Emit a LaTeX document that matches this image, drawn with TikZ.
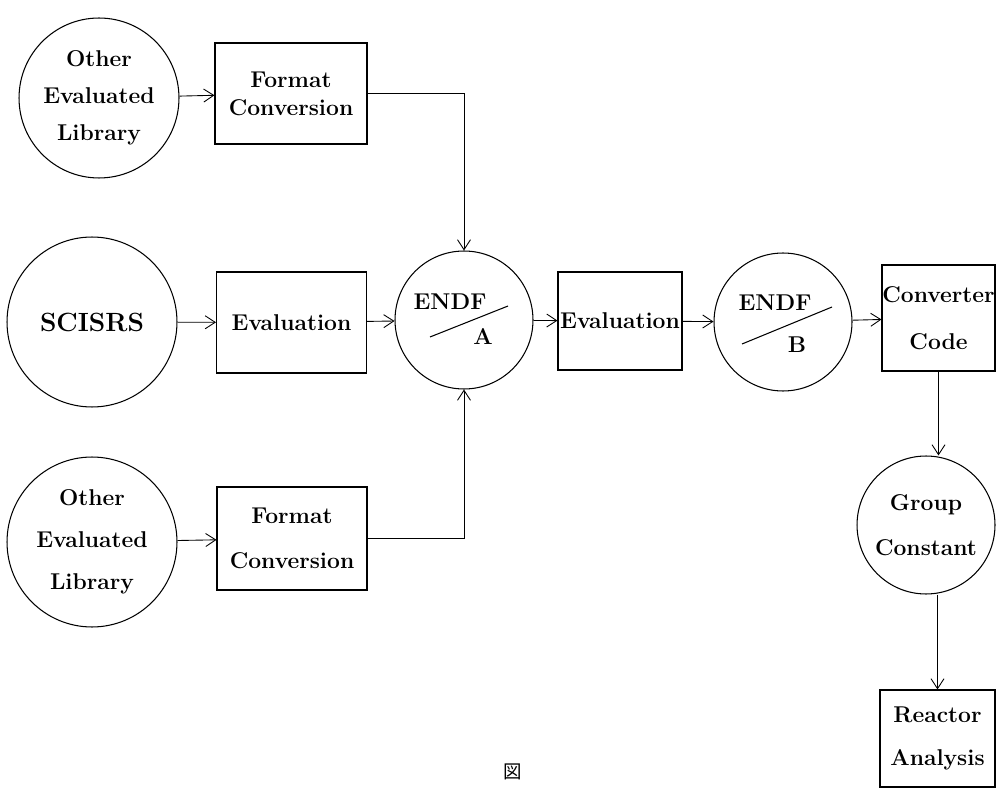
\documentclass[tikz,border=0pt]{standalone}
\usepackage{fontspec}
\usetikzlibrary{arrows.meta}
\newfontfamily\cjk{Noto Sans CJK JP}
\tikzset{
  txt/.style={font=\fontsize{13}{15}\selectfont\bfseries},
  box/.style={draw, rectangle, line width=0.6pt, inner sep=0pt, align=center, txt},
  disc/.style={draw, circle, line width=0.6pt, inner sep=0pt, align=center, txt},
  flow/.style={-{Straight Barb[length=2mm,width=2.6mm]}, line width=0.5pt}
}
\begin{document}
\begin{tikzpicture}[x=0.02cm, y=-0.02cm]
\useasboundingbox (0,0) rectangle (997,790);
\node[disc, minimum size=3.2cm] (libA) at (99,98) {Other\\[6pt]Evaluated\\[6pt]Library};
\node[box, minimum width=3.04cm, minimum height=2.02cm] (fmtA) at (291,93.5) {Format\\[1pt]Conversion};
\node[disc, minimum size=3.4cm, font=\fontsize{15}{18}\selectfont\bfseries] (scis) at (92,322) {SCISRS};
\node[box, minimum width=3.0cm, minimum height=2.02cm] (evalA) at (291.5,322.5) {Evaluation};
\node[disc, minimum size=3.4cm] (libB) at (92,542) {Other\\[9pt]Evaluated\\[9pt]Library};
\node[box, minimum width=3.0cm, minimum height=2.06cm] (fmtB) at (292,538.5) {Format\\[10.5pt]Conversion};
\node[disc, minimum size=2.76cm] (endfA) at (464,320) {};
\node[box, minimum width=2.48cm, minimum height=1.96cm] (evalB) at (620,321) {Evaluation};
\node[disc, minimum size=2.76cm] (endfB) at (783,322) {};
\node[box, minimum width=2.26cm, minimum height=2.12cm] (conv) at (938.5,318) {Converter\\[12pt]Code};
\node[disc, minimum size=2.76cm] (grp) at (926,525) {Group\\[10.5pt]Constant};
\node[box, minimum width=2.3cm, minimum height=1.94cm] (react) at (937.5,738.5) {Reactor\\[9.5pt]Analysis};
\node[txt] (endfAt) at ([shift={(-14,-18)}]endfA.center) {ENDF};
\node[txt] (endfAb) at ([shift={(19,17)}]endfA.center) {A};
\draw[line width=0.6pt] ([shift={(-34,17)}]endfA.center) -- ([shift={(44,-14)}]endfA.center);
\node[txt] (endfBt) at ([shift={(-8,-19)}]endfB.center) {ENDF};
\node[txt] (endfBb) at ([shift={(14,23)}]endfB.center) {B};
\draw[line width=0.6pt] ([shift={(-41,22)}]endfB.center) -- ([shift={(49,-15)}]endfB.center);
\node[font=\cjk\fontsize{10.5}{12}\selectfont] (fig) at (513,772) {図};
\draw[flow] (libA) -- (fmtA);
\draw[flow] (fmtA.east) -| (endfA.north);
\draw[flow] (scis) -- (evalA);
\draw[flow] (evalA) -- (endfA);
\draw[flow] (libB) -- (fmtB);
\draw[flow] (fmtB.east) -| (endfA.south);
\draw[flow] (endfA) -- (evalB);
\draw[flow] (evalB) -- (endfB);
\draw[flow] (endfB) -- (conv);
\draw[flow] (conv.south) -- (conv.south |- grp.north);
\draw[flow] (react.north |- grp.south) -- (react.north);
\end{tikzpicture}
\end{document}
